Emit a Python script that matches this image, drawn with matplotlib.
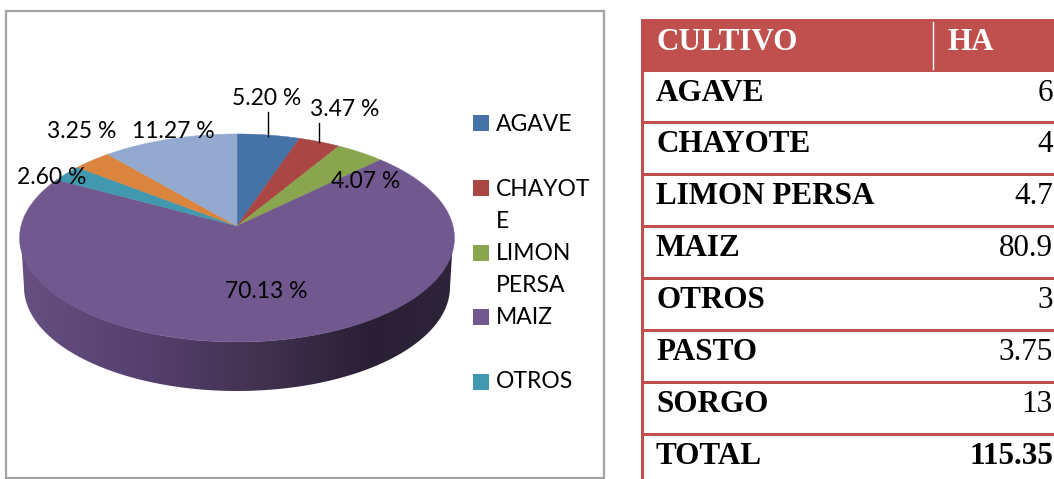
import matplotlib
matplotlib.use('Agg')
import matplotlib.pyplot as plt
from matplotlib.colors import LinearSegmentedColormap
from matplotlib.patches import Polygon, Rectangle
import numpy as np

# table / pie data
cultivos = ['AGAVE', 'CHAYOTE', 'LIMON PERSA', 'MAIZ', 'OTROS', 'PASTO', 'SORGO']
hectareas = [6, 4, 4.7, 80.9, 3, 3.75, 13]
ha_labels = ['6', '4', '4.7', '80.9', '3', '3.75', '13']
total_label = '115.35'
colores = ['#4572A7', '#AA4643', '#89A54E', '#71588F', '#4198AF', '#DB843D', '#93A9CF']

# legend is cut off in the original, only five entries and wrapped text
legend_lines = [('AGAVE', 123), ('CHAYOT', 188), ('E', 220), ('LIMON', 252), ('PERSA', 285), ('MAIZ', 316), ('OTROS', 381)]
legend_boxes = [(0, 123), (1, 188), (2, 253), (3, 317), (4, 382)]

# label centres for each slice, in image pixels
label_pos = [(267, 97), (345, 108), (366, 181), (266, 291), (52, 176), (82, 130), (173, 130)]

CX, CY, RX, RY, DEPTH = 237, 238, 216, 104, 49
K = 0.115  # fake perspective, the apex sits above the ellipse centre
APEX = 12
TXT = 16.5
TBL = 22.4

fig = plt.figure(figsize=(10.54, 4.79), dpi=100)
ax = fig.add_axes([0, 0, 1, 1])
ax.set_xlim(0, 1054)
ax.set_ylim(479, 0)
ax.axis('off')


def rim(theta):
    x, y = np.sin(theta), np.cos(theta)
    w = 1 + K * y
    return CX + RX * x / w, CY - (RY * y + APEX) / w


# chart frame
ax.add_patch(Rectangle((6, 11), 598, 467, fc='white', ec='#a3a3a3', lw=1.6))

# side of the pie with a gradient
t = np.linspace(0, np.pi, 200)
top_x, top_y = CX - RX * np.cos(t), CY + RY * np.sin(t)
bot_x, bot_y = CX - (RX - 3) * np.cos(t[::-1]), CY + DEPTH + RY * np.sin(t[::-1])
side = Polygon(np.column_stack([np.r_[top_x, bot_x], np.r_[top_y, bot_y]]), fc='none', ec='none')
ax.add_patch(side)
cmap = LinearSegmentedColormap.from_list('side', [(0, '#655081'), (0.3, '#553F6D'), (0.55, '#423250'),
                                                  (0.8, '#2A2036'), (1, '#2E243A')])
img = ax.imshow(np.linspace(0, 1, 256)[None, :], cmap=cmap, aspect='auto',
                extent=(CX - RX, CX + RX, 400, 230), zorder=2)
img.set_clip_path(side)
ax.set_xlim(0, 1054)
ax.set_ylim(479, 0)

# top face
fracs = np.array(hectareas) / sum(hectareas)
bounds = np.r_[0, np.cumsum(fracs)] * 2 * np.pi
cx0, cy0 = CX, CY - APEX
for i, color in enumerate(colores):
    th = np.linspace(bounds[i], bounds[i + 1], 150)
    xs, ys = rim(th)
    ax.fill(np.r_[cx0, xs], np.r_[cy0, ys], color=color, lw=0.3, zorder=3)

# leader lines
ax.plot([268, 268], [112, 136], color='black', lw=1, zorder=4)
ax.plot([319, 319], [123, 142], color='black', lw=1, zorder=4)

# percent labels
for frac, (lx, ly) in zip(fracs, label_pos):
    ax.text(lx, ly + 1, f'{frac * 100:.2f} %', ha='center', va='center', family='Lato',
            fontsize=TXT, color='black', zorder=5)

# legend
for idx, ly in legend_boxes:
    ax.add_patch(Rectangle((473, ly - 8), 16, 16, fc=colores[idx], ec='none'))
for txt, ly in legend_lines:
    ax.text(496, ly + 1, txt, ha='left', va='center', family='Lato', fontsize=TXT, color='black')

# table on the right
red = '#C0504D'
ax.add_patch(Rectangle((641, 19), 413, 53, fc=red, ec='none'))
ax.plot([933, 933], [22, 69], color='white', lw=1)
ax.text(656, 42, 'CULTIVO', color='white', family='Liberation Serif', weight='bold', fontsize=TBL, ha='left', va='center')
ax.text(947, 42, 'HA', color='white', family='Liberation Serif', weight='bold', fontsize=TBL, ha='left', va='center')
ax.add_patch(Rectangle((641, 72), 3, 407, fc=red, ec='none'))
row_lines = [122.5, 174, 226, 278, 330, 382, 434]
for yl in row_lines:
    ax.add_patch(Rectangle((641, yl - 1.5), 413, 3, fc=red, ec='none'))
row_text = [93, 144, 196, 248, 301, 353, 405]
for name, val, yt in zip(cultivos, ha_labels, row_text):
    ax.text(656, yt, name, family='Liberation Serif', weight='bold', fontsize=TBL, ha='left', va='center')
    ax.text(1053, yt, val, family='Liberation Serif', fontsize=TBL, ha='right', va='center')
ax.text(656, 457, 'TOTAL', family='Liberation Serif', weight='bold', fontsize=TBL, ha='left', va='center')
ax.text(1053, 457, total_label, family='Liberation Serif', weight='bold', fontsize=TBL, ha='right', va='center')

fig.savefig('out.png', dpi=100)
